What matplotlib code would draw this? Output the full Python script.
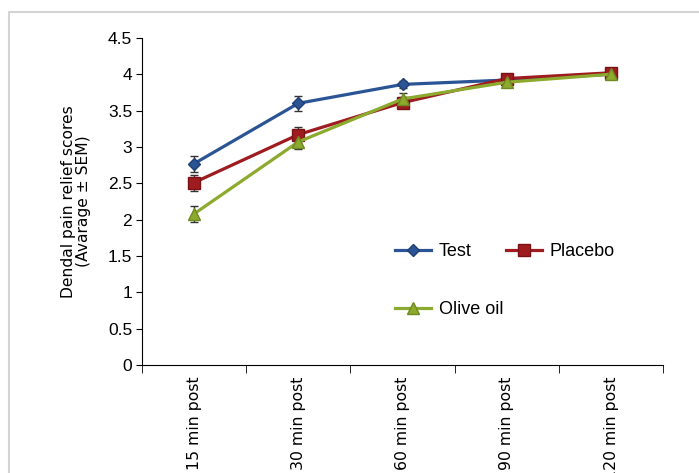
import matplotlib.pyplot as plt
import matplotlib.patches as mpatches
import numpy as np

# data
labels = ["15 min post", "30 min post", "60 min post", "90 min post", "120 min post"]
test = [2.77, 3.60, 3.86, 3.92, 4.00]
test_sem = [0.11, 0.10, 0.05, 0.03, 0.02]
placebo = [2.51, 3.17, 3.61, 3.94, 4.02]
placebo_sem = [0.11, 0.11, 0.08, 0.03, 0.03]
olive = [2.08, 3.07, 3.66, 3.89, 4.00]
olive_sem = [0.11, 0.10, 0.08, 0.03, 0.02]

c_test = "#2A5494"
c_placebo = "#9E1B1F"
c_olive = "#8BAA2E"

plt.rcParams['font.family'] = ['Liberation Sans', 'DejaVu Sans']

fig = plt.figure(figsize=(6.99, 4.73), dpi=100)
ax = fig.add_axes([0.203, 0.228, 0.746, 0.692])

# light frame around the whole figure
fig.patches.append(mpatches.Rectangle((8.5 / 699, -0.05), 1.1, 1 - 11.5 / 473 + 0.05,
                                      transform=fig.transFigure, fill=False,
                                      edgecolor="#d4d4d4", lw=1.5))

x = np.arange(len(labels))
kw = dict(lw=2.3, ecolor="#333333", elinewidth=1, capsize=3, capthick=1)
h_test = ax.errorbar(x, test, yerr=test_sem, color=c_test, marker="D", ms=6,
                     mec="#1E3F73", **kw)
h_plac = ax.errorbar(x, placebo, yerr=placebo_sem, color=c_placebo, marker="s", ms=9,
                     mec="#7A1215", **kw)
h_oliv = ax.errorbar(x, olive, yerr=olive_sem, color=c_olive, marker="^", ms=9,
                     mec="#6F8A20", **kw)

ax.set_xlim(-0.5, len(labels) - 0.5)
ax.set_ylim(0, 4.5)
ax.set_yticks(np.arange(0, 4.51, 0.5))
ax.set_yticklabels(["0", "0.5", "1", "1.5", "2", "2.5", "3", "3.5", "4", "4.5"], fontsize=12.5)
ax.set_xticks(x)
ax.set_xticklabels(labels, rotation=90, fontsize=11.3, family=['DejaVu Sans'])
ax.set_xticks(np.arange(-0.5, len(labels)), minor=True)
ax.tick_params(axis="x", which="major", length=0, pad=8)
ax.tick_params(axis="x", which="minor", length=6, direction="out")
ax.tick_params(axis="y", length=4, direction="out", pad=3)

ax.spines["top"].set_visible(False)
ax.spines["right"].set_visible(False)
ax.set_ylabel("Dendal pain relief scores\n(Avarage \u00b1 SEM)", fontsize=11.2,
              family=['DejaVu Sans'], labelpad=12, linespacing=1.05)

leg_kw = dict(frameon=False, fontsize=13, loc="upper left", borderpad=0,
              borderaxespad=0, handlelength=2.0, handletextpad=0.4)
leg1 = ax.legend([h_test[0], h_plac[0]], ["Test", "Placebo"], ncol=2,
                 bbox_to_anchor=(0.486, 0.373), columnspacing=1.9, **leg_kw)
ax.add_artist(leg1)
ax.legend([h_oliv[0]], ["Olive oil"], bbox_to_anchor=(0.486, 0.196), **leg_kw)

fig.savefig("out.png", dpi=100)
